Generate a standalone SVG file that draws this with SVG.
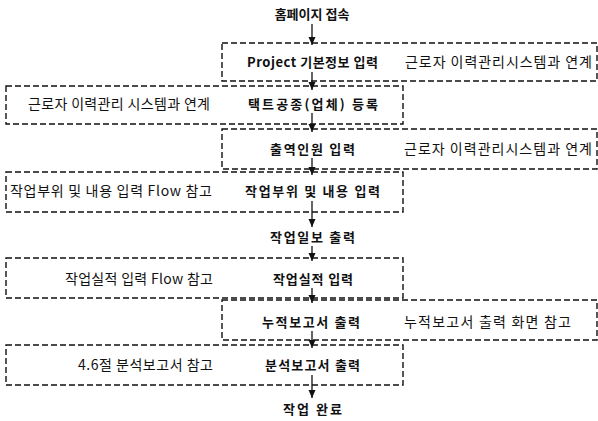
<svg xmlns="http://www.w3.org/2000/svg" width="598" height="421" viewBox="0 0 598 421">
  <style>
    .box { fill: none; stroke: #111; stroke-width: 1.4; stroke-dasharray: 6 3; }
    .t { font-family: "Noto Sans CJK KR", "Noto Sans", sans-serif; fill: #111; }
    .b { font-size: 13px; font-weight: 700; }
    .n { font-size: 14px; font-weight: 400; }
    .flow { stroke: #111; stroke-width: 1.3; fill: none; marker-end: url(#arr); }
  </style>
  <defs>
    <marker id="arr" viewBox="0 0 8 10" refX="8" refY="5" markerWidth="8" markerHeight="10" orient="auto" markerUnits="userSpaceOnUse">
      <path d="M0,1.5 L8,5 L0,8.5 Z" fill="#111"/>
    </marker>
  </defs>
  <rect width="598" height="421" fill="#fff"/>

  <g id="connectors">
    <line class="flow" x1="312" y1="24" x2="312" y2="45"/>
    <line class="flow" x1="312" y1="72" x2="312" y2="90"/>
    <line class="flow" x1="312" y1="113" x2="312" y2="132"/>
    <line class="flow" x1="312" y1="158" x2="312" y2="175"/>
    <line class="flow" x1="312" y1="201" x2="312" y2="227"/>
    <line class="flow" x1="312" y1="246" x2="312" y2="261"/>
    <line class="flow" x1="312" y1="288" x2="312" y2="303"/>
    <line class="flow" x1="312" y1="331" x2="312" y2="348"/>
    <line class="flow" x1="312" y1="375" x2="312" y2="398"/>
  </g>

  <g id="start">
    <text class="t b" x="312" y="19" text-anchor="middle">홈페이지 접속</text>
  </g>

  <g id="project-info">
    <rect class="box" x="222" y="43" width="375" height="38"/>
    <text class="t b" x="247" y="67" textLength="131">Project 기본정보 입력</text>
    <text class="t n" x="405" y="67" textLength="187">근로자 이력관리시스템과 연계</text>
  </g>

  <g id="tact-register">
    <rect class="box" x="6" y="86" width="397" height="38"/>
    <text class="t n" x="28" y="109" textLength="182">근로자 이력관리 시스템과 연계</text>
    <text class="t b" x="248" y="109" textLength="130">택트공종(업체) 등록</text>
  </g>

  <g id="attendance">
    <rect class="box" x="222" y="129" width="375" height="40"/>
    <text class="t b" x="270" y="154" textLength="85">출역인원 입력</text>
    <text class="t n" x="404" y="154" textLength="188">근로자 이력관리시스템과 연계</text>
  </g>

  <g id="work-part">
    <rect class="box" x="6" y="172" width="397" height="40"/>
    <text class="t n" x="10" y="196" textLength="202">작업부위 및 내용 입력 Flow 참고</text>
    <text class="t b" x="245" y="196" textLength="135">작업부위 및 내용 입력</text>
  </g>

  <g id="daily-report">
    <text class="t b" x="270" y="242" textLength="85">작업일보 출력</text>
  </g>

  <g id="performance">
    <rect class="box" x="6" y="258" width="397" height="40"/>
    <text class="t n" x="65" y="284" textLength="148">작업실적 입력 Flow 참고</text>
    <text class="t b" x="273" y="284" textLength="80">작업실적 입력</text>
  </g>

  <g id="cumulative">
    <rect class="box" x="222" y="300" width="375" height="40"/>
    <text class="t b" x="262" y="327" textLength="98">누적보고서 출력</text>
    <text class="t n" x="404" y="327" textLength="167">누적보고서 출력 화면 참고</text>
  </g>

  <g id="analysis">
    <rect class="box" x="6" y="345" width="397" height="40"/>
    <text class="t n" x="78" y="370" textLength="135">4.6절 분석보고서 참고</text>
    <text class="t b" x="265" y="370" textLength="95">분석보고서 출력</text>
  </g>

  <g id="end">
    <text class="t b" x="283" y="414" textLength="59">작업 완료</text>
  </g>
</svg>
